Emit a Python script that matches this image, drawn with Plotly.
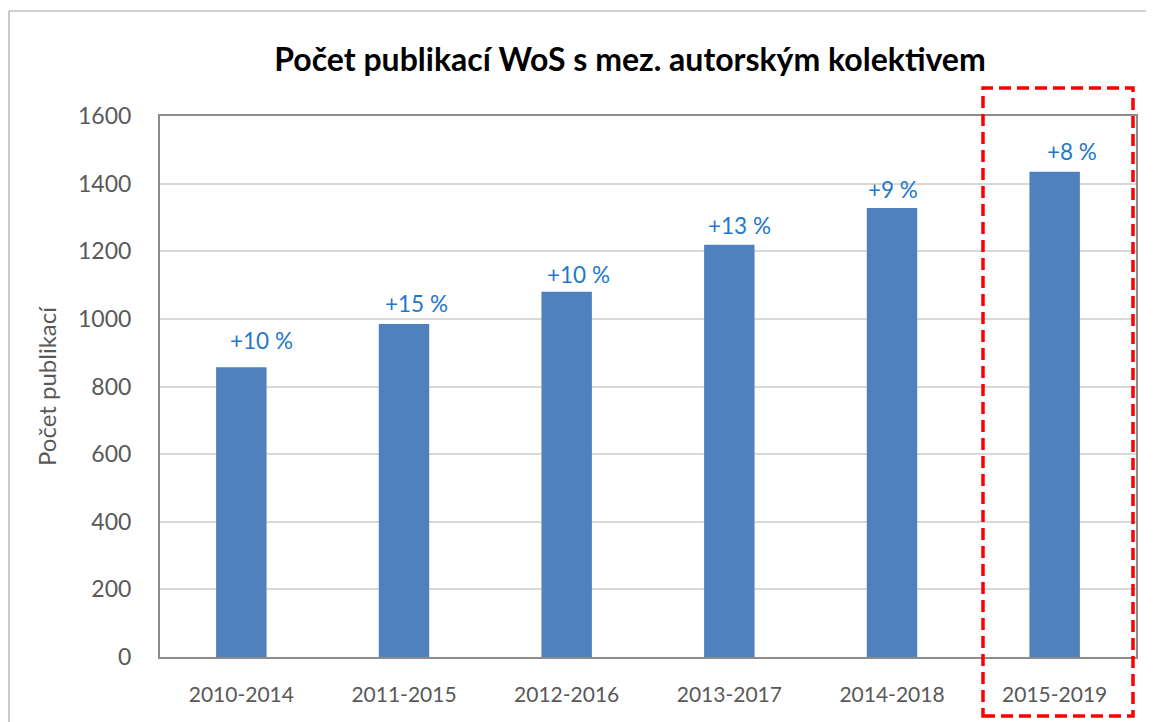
import plotly.graph_objects as go

categories = ["2010-2014", "2011-2015", "2012-2016", "2013-2017", "2014-2018", "2015-2019"]
counts = [857, 985, 1080, 1219, 1328, 1435]
growth_labels = ["+10 %", "+15 %", "+10 %", "+13 %", "+9 %", "+8 %"]
y_ticks = [0, 200, 400, 600, 800, 1000, 1200, 1400, 1600]

# label offsets (style), px
label_dx = [20, 12, 12, 10, 1, 17]
label_dy = [27, 20, 17, 19, 18, 20]

OFF = 8  # default page body margin
W, H = 1154 - OFF, 722 - OFF
ML, MR, MT, MB = 160 - OFF, 18, 116 - OFF, 65
PW, PH = W - ML - MR, H - MT - MB

def px_x(p):
    return (p - OFF - ML) / PW

def px_y(p):
    return (H - MB - (p - OFF)) / PH

fig = go.Figure()
fig.add_trace(go.Bar(
    x=categories, y=counts,
    marker=dict(color="#4f81bd", line=dict(width=0)),
    hoverinfo="x+y",
))

for c, v, t, dx, dy in zip(categories, counts, growth_labels, label_dx, label_dy):
    fig.add_annotation(x=c, y=v, text=t, showarrow=False, xref="x", yref="y",
                       xshift=dx, yshift=dy, yanchor="middle", xanchor="center",
                       font=dict(family="Lato", size=22.5, color="#1f78c9"))

# outer frame (left and top edges visible)
frame = dict(color="#a6a6a6", width=1.2)
fig.add_shape(type="line", xref="paper", yref="paper",
              x0=px_x(9), x1=px_x(9), y0=px_y(740), y1=px_y(11), line=frame, layer="below")
fig.add_shape(type="line", xref="paper", yref="paper",
              x0=px_x(9), x1=px_x(1153), y0=px_y(11), y1=px_y(11), line=frame, layer="below")

# red dashed highlight box
fig.add_shape(type="rect", xref="paper", yref="paper",
              x0=px_x(983), x1=px_x(1133), y0=px_y(716), y1=px_y(88),
              line=dict(color="#ff0000", width=3.5, dash="12px,6px"), fillcolor="rgba(0,0,0,0)")

fig.update_layout(
    width=W, height=H,
    margin=dict(l=ML, r=MR, t=MT, b=MB, autoexpand=False),
    paper_bgcolor="white", plot_bgcolor="white",
    bargap=0.69,
    showlegend=False,
    title=dict(text="<b>Počet publikací WoS s mez. autorským kolektivem</b>",
               x=(630 - OFF) / W, xref="container", xanchor="center",
               y=1 - (60 - OFF) / H, yref="container", yanchor="middle",
               font=dict(family="Lato", size=32, color="#000000")),
    xaxis=dict(
        type="category", range=[-0.5, 5.5],
        showline=True, linecolor="#8c8c8c", linewidth=2, mirror=True,
        showgrid=False, ticks="", ticklabelstandoff=18,
        tickfont=dict(family="Lato", size=21, color="#595959"),
    ),
    yaxis=dict(
        range=[0, 1600], tickvals=y_ticks,
        showline=True, linecolor="#8c8c8c", linewidth=2, mirror=True,
        showgrid=True, gridcolor="#d9d9d9", gridwidth=1.5,
        zeroline=False, ticks="", ticklabelstandoff=22,
        tickfont=dict(family="Lato", size=23, color="#595959"),
        title=dict(text="Počet publikací", standoff=15,
                   font=dict(family="Lato", size=24, color="#595959")),
    ),
)

fig.write_html("out.html")
